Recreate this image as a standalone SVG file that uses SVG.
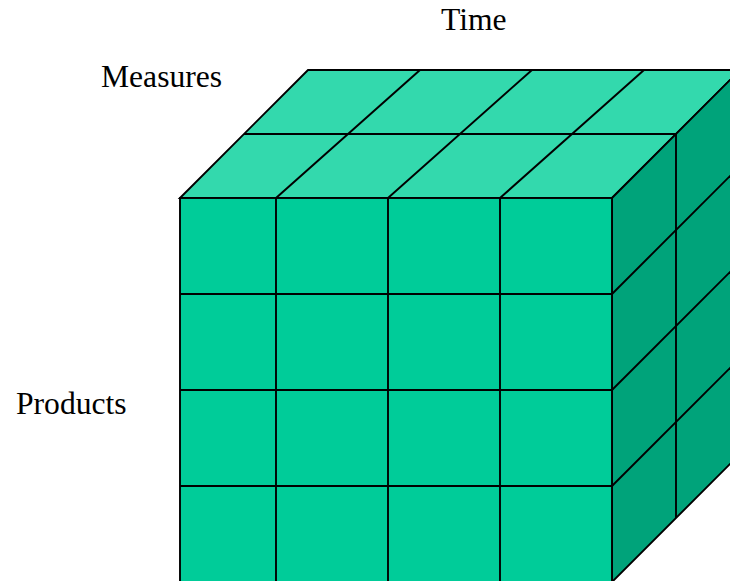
<svg xmlns="http://www.w3.org/2000/svg" width="730" height="581" viewBox="0 0 730 581">
<style>
.ln{stroke:#000;stroke-width:1.9;fill:none;stroke-linejoin:miter}
.front{fill:#00CC99;stroke:#000;stroke-width:1.9}
.top{fill:#33D9AD;stroke:#000;stroke-width:1.9}
.side{fill:#00A37A;stroke:#000;stroke-width:1.9}
.lbl{font-family:"Liberation Serif","Times New Roman",serif;font-size:31.6px;fill:#000}
</style>
<rect width="730" height="581" fill="#fff"/>
<g id="cube-top">
<polygon class="top" points="180,198 308,70 740,70 612,198"/>
</g>
<g id="cube-side">
<polygon class="side" points="612,198 740,70 740,454 612,582"/>
</g>
<g id="cube-front">
<rect class="front" x="180" y="198" width="432" height="384"/>
</g>
<g id="connectors">
<line class="ln" x1="276" y1="198" x2="420" y2="70"/>
<line class="ln" x1="388" y1="198" x2="532" y2="70"/>
<line class="ln" x1="500" y1="198" x2="644" y2="70"/>
<line class="ln" x1="244" y1="134" x2="676" y2="134"/>
<line class="ln" x1="676" y1="134" x2="676" y2="518"/>
<line class="ln" x1="612" y1="294" x2="740" y2="166"/>
<line class="ln" x1="612" y1="390" x2="740" y2="262"/>
<line class="ln" x1="612" y1="486" x2="740" y2="358"/>
<line class="ln" x1="276" y1="198" x2="276" y2="582"/>
<line class="ln" x1="388" y1="198" x2="388" y2="582"/>
<line class="ln" x1="500" y1="198" x2="500" y2="582"/>
<line class="ln" x1="180" y1="294" x2="612" y2="294"/>
<line class="ln" x1="180" y1="390" x2="612" y2="390"/>
<line class="ln" x1="180" y1="486" x2="612" y2="486"/>
</g>
<g id="label-time"><text class="lbl" x="441" y="30">Time</text></g>
<g id="label-measures"><text class="lbl" x="101" y="87">Measures</text></g>
<g id="label-products"><text class="lbl" x="16" y="414">Products</text></g>
</svg>
